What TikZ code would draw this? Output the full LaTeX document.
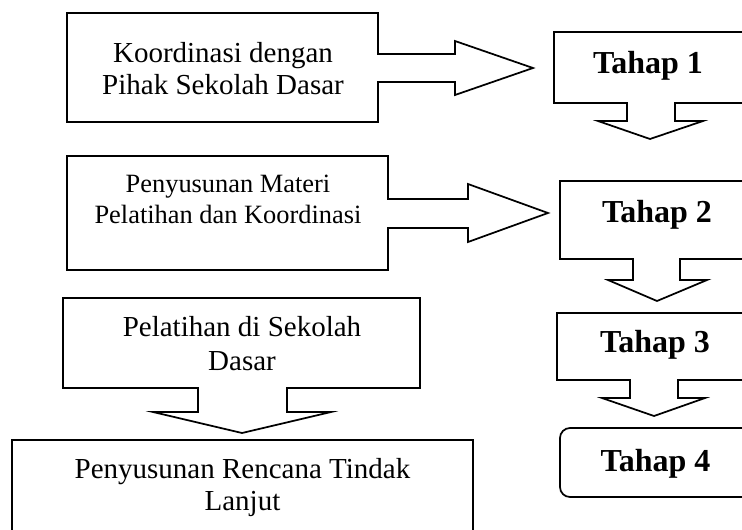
\documentclass[tikz,border=0pt]{standalone}
\usepackage{fontspec}
\setmainfont{Liberation Serif}
\begin{document}
\begin{tikzpicture}[x=0.75pt,y=-0.75pt,
  shapeline/.style={draw=black,line width=1.3pt,line join=miter,fill=white},
  txt/.style={anchor=base,inner sep=0pt,font=\fontsize{21.75pt}{26pt}\selectfont},
  txtsmall/.style={anchor=base,inner sep=0pt,font=\fontsize{19.8pt}{24pt}\selectfont},
  txtbold/.style={anchor=base,inner sep=0pt,font=\fontsize{24pt}{28pt}\selectfont\bfseries}]
\useasboundingbox (0,0) rectangle (742,529);
\clip (0,0) rectangle (742,529);
% Koordinasi callout (arrow right)
\draw[shapeline] (67,13) -- (378,13) -- (378,54) -- (455,54) -- (455,41) -- (533,68)
  -- (455,95) -- (455,82) -- (378,82) -- (378,122) -- (67,122) -- cycle;
\node[txt] (k1) at (223,62) {Koordinasi dengan};
\node[txt] (k2) at (223,94) {Pihak Sekolah Dasar};
% Penyusunan Materi callout (arrow right)
\draw[shapeline] (67,156) -- (388,156) -- (388,199) -- (468,199) -- (468,184) -- (548,213)
  -- (468,242) -- (468,228) -- (388,228) -- (388,270) -- (67,270) -- cycle;
\node[txtsmall] (m1) at (228,192) {Penyusunan Materi};
\node[txtsmall] (m2) at (228,223) {Pelatihan dan Koordinasi};
% Pelatihan callout (arrow down)
\draw[shapeline] (63,298) -- (420,298) -- (420,388) -- (287,388) -- (287,412) -- (331,412)
  -- (242,433) -- (153,412) -- (198,412) -- (198,388) -- (63,388) -- cycle;
\node[txt] (p1) at (242,336) {Pelatihan di Sekolah};
\node[txt] (p2) at (242,370) {Dasar};
% Penyusunan Rencana box
\draw[shapeline] (12,440) rectangle (473,545);
\node[txt] (r1) at (242.5,478) {Penyusunan Rencana Tindak};
\node[txt] (r2) at (242.5,510) {Lanjut};
% Tahap 1
\draw[shapeline] (760,32) -- (760,103) -- (675,103) -- (675,121) -- (703,121) -- (650,139)
  -- (598,121) -- (627,121) -- (627,103) -- (554,103) -- (554,32) -- cycle;
\node[txtbold] (t1) at (648,73) {Tahap 1};
% Tahap 2
\draw[shapeline] (760,181) -- (760,259) -- (680,259) -- (680,280) -- (707,280) -- (657,301)
  -- (608,280) -- (633,280) -- (633,259) -- (560,259) -- (560,181) -- cycle;
\node[txtbold] (t2) at (657,222) {Tahap 2};
% Tahap 3
\draw[shapeline] (760,313) -- (760,380) -- (678,380) -- (678,398) -- (705,398) -- (654,416)
  -- (602,398) -- (630,398) -- (630,380) -- (557,380) -- (557,313) -- cycle;
\node[txtbold] (t3) at (655,352) {Tahap 3};
% Tahap 4
\draw[shapeline,rounded corners=7.5pt] (560,428) rectangle (780,497);
\node[txtbold] (t4) at (655.5,471) {Tahap 4};
\end{tikzpicture}
\end{document}
